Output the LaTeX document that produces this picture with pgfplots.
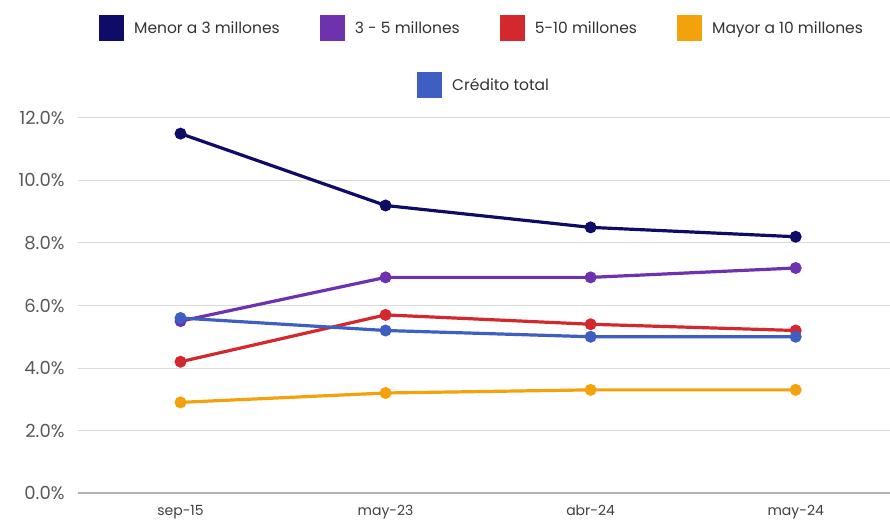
\documentclass[border=0pt]{standalone}
\usepackage{fontspec}
\setmainfont{Poppins}
\usepackage{pgfplots}
\pgfplotsset{compat=1.18}
\definecolor{cNavy}{HTML}{0E0C66}
\definecolor{cPurple}{HTML}{6E32AE}
\definecolor{cRed}{HTML}{D2282E}
\definecolor{cOrange}{HTML}{F4A20C}
\definecolor{cBlue}{HTML}{3F5EC2}
\pgfplotsset{
  legend image code/.code={\fill[#1] (0pt,-11pt) rectangle (22pt,11pt); \path (30pt,0pt);},
  mylegend/.style={legend style={draw=none, fill=none, anchor=center,
      font=\fontsize{15.5}{18}\selectfont, text=black!80,
      /tikz/every even column/.append style={column sep=38pt}}},
  base/.style={at={(78pt,29pt)}, anchor=south west, scale only axis,
      width=812pt, height=375pt, xmin=-0.5, xmax=3.46, ymin=0, ymax=12},
  ser/.style={line width=3.2pt, mark=*, mark size=4.3pt},
}
\begin{document}
\begin{tikzpicture}[x=1pt,y=1pt]
\useasboundingbox (0,0) rectangle (890,522);
\begin{axis}[base, mylegend,
  legend columns=4,
  legend style={at={(0.4975,1.24)}},
  /pgf/number format/assume math mode=true,
  xtick={0,1,2,3}, xticklabels={sep-15,may-23,abr-24,may-24},
  ytick={0,2,4,6,8,10,12},
  yticklabel={\pgfmathprintnumber[fixed,fixed zerofill,precision=1]{\tick}\%},
  ymajorgrids, grid style={draw=black!15, line width=1pt},
  axis x line*=bottom, axis y line*=left,
  x axis line style={draw=black!30, line width=1.3pt},
  y axis line style={draw=none},
  major tick length=0pt,
  yticklabel style={font=\fontsize{18}{20}\selectfont, text=black!65, xshift=-10pt},
  xticklabel style={font=\fontsize{14}{17}\selectfont, text=black!75, yshift=-9pt},
]
\addplot[ser, color=cNavy] coordinates {(0,11.5) (1,9.2) (2,8.5) (3,8.2)};
\addlegendentry{Menor a 3 millones}
\addplot[ser, color=cPurple] coordinates {(0,5.5) (1,6.9) (2,6.9) (3,7.2)};
\addlegendentry{3 - 5 millones}
\addplot[ser, color=cRed] coordinates {(0,4.2) (1,5.7) (2,5.4) (3,5.2)};
\addlegendentry{5-10 millones}
\addplot[ser, color=cOrange] coordinates {(0,2.9) (1,3.2) (2,3.3) (3,3.3)};
\addlegendentry{Mayor a 10 millones}
\addplot[ser, color=cBlue, forget plot] coordinates {(0,5.6) (1,5.2) (2,5.0) (3,5.0)};
\end{axis}
\begin{axis}[base, mylegend, hide axis,
  legend style={at={(0.5,1.088)}}]
\addlegendimage{ser, color=cBlue}
\addlegendentry{Crédito total}
\end{axis}
\end{tikzpicture}
\end{document}
